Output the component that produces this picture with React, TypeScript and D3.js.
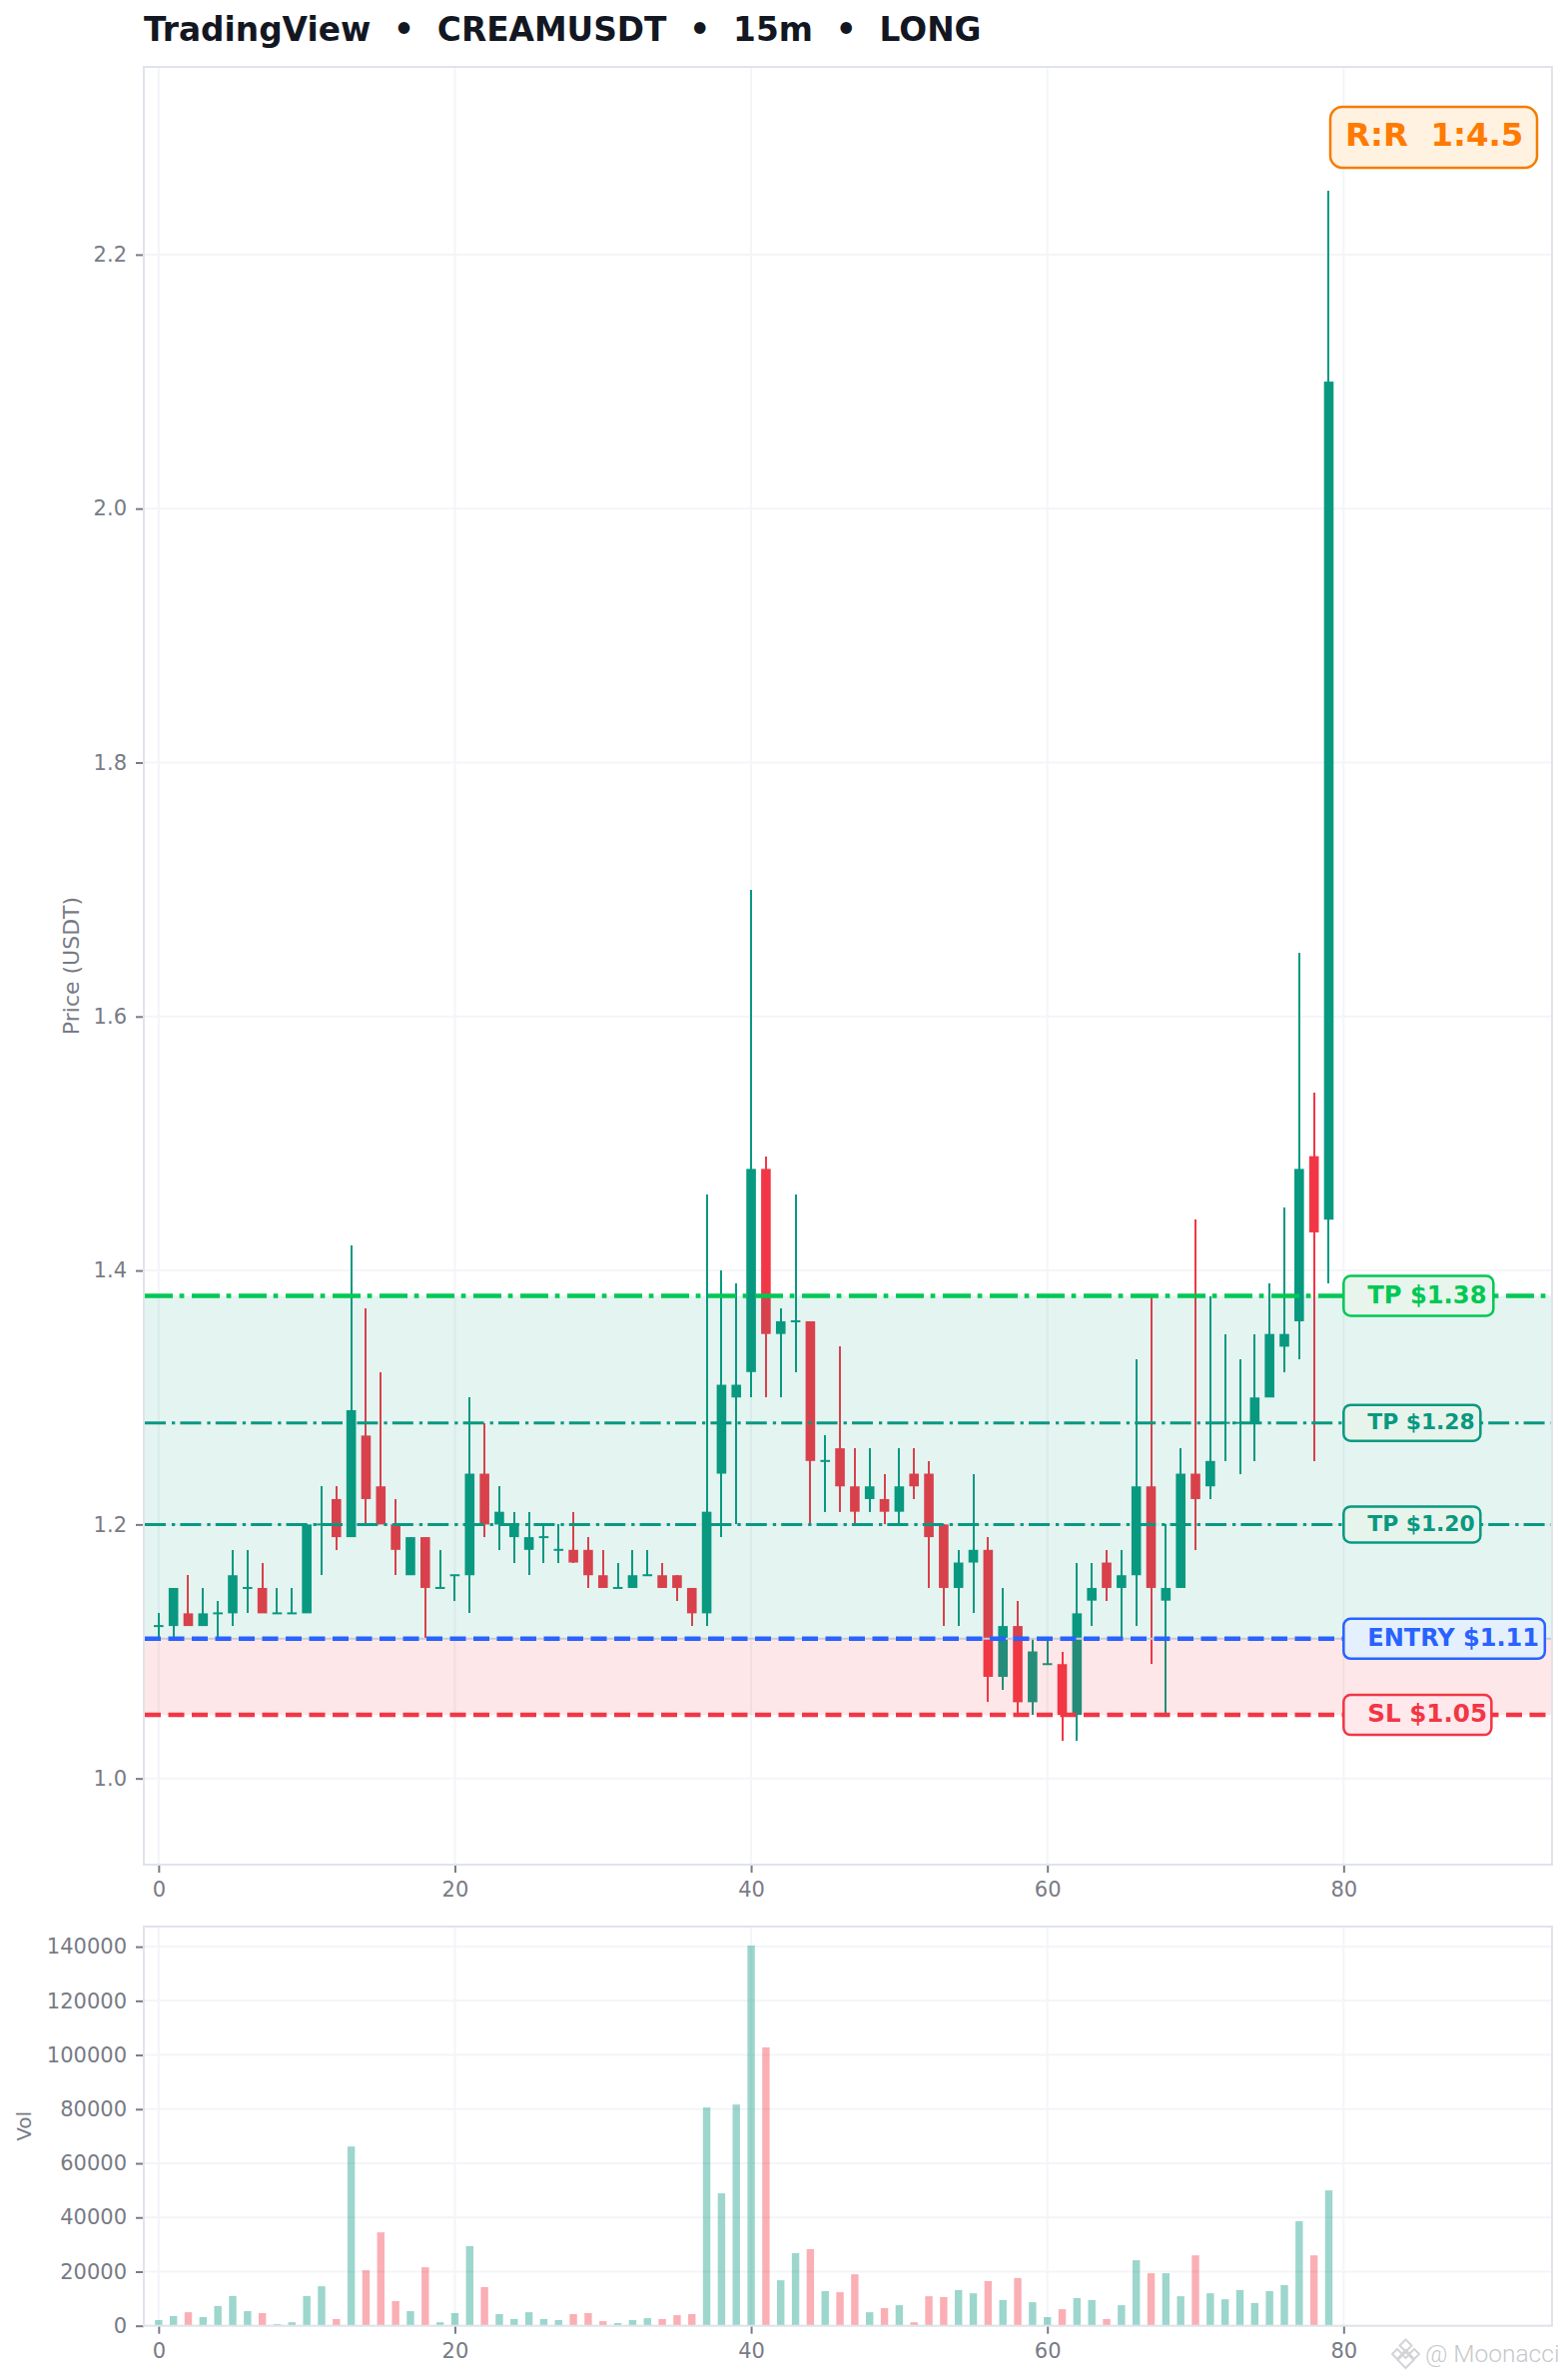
import { useEffect, useRef } from 'react';
import * as d3 from 'd3';

const opens = [
  1.12, 1.12, 1.13, 1.12, 1.13, 1.13, 1.15, 1.15, 1.13, 1.13,
  1.13, 1.20, 1.22, 1.19, 1.27, 1.23, 1.20, 1.16, 1.19, 1.15,
  1.16, 1.16, 1.24, 1.20, 1.19, 1.18, 1.19, 1.18, 1.18, 1.18,
  1.16, 1.15, 1.15, 1.16, 1.16, 1.16, 1.15, 1.13, 1.24, 1.30,
  1.32, 1.48, 1.35, 1.36, 1.36, 1.25, 1.26, 1.23, 1.22, 1.22,
  1.21, 1.24, 1.24, 1.20, 1.15, 1.17, 1.18, 1.08, 1.12, 1.06,
  1.09, 1.09, 1.05, 1.14, 1.17, 1.15, 1.16, 1.23, 1.14, 1.15,
  1.24, 1.23, 1.28, 1.28, 1.28, 1.30, 1.34, 1.36, 1.49, 1.44,
];
const closes = [
  1.12, 1.15, 1.12, 1.13, 1.13, 1.16, 1.15, 1.13, 1.13, 1.13,
  1.20, 1.20, 1.19, 1.29, 1.22, 1.20, 1.18, 1.19, 1.15, 1.15,
  1.16, 1.24, 1.20, 1.21, 1.20, 1.19, 1.19, 1.18, 1.17, 1.16,
  1.15, 1.15, 1.16, 1.16, 1.15, 1.15, 1.13, 1.21, 1.31, 1.31,
  1.48, 1.35, 1.36, 1.36, 1.25, 1.25, 1.23, 1.21, 1.23, 1.21,
  1.23, 1.23, 1.19, 1.15, 1.17, 1.18, 1.08, 1.12, 1.06, 1.10,
  1.09, 1.05, 1.13, 1.15, 1.15, 1.16, 1.23, 1.15, 1.15, 1.24,
  1.22, 1.25, 1.28, 1.28, 1.30, 1.35, 1.35, 1.48, 1.43, 2.10,
];
const highs = [
  1.13, 1.15, 1.16, 1.15, 1.14, 1.18, 1.18, 1.17, 1.15, 1.15,
  1.20, 1.23, 1.23, 1.42, 1.37, 1.32, 1.22, 1.19, 1.19, 1.18,
  1.16, 1.30, 1.28, 1.23, 1.21, 1.21, 1.20, 1.20, 1.21, 1.19,
  1.18, 1.17, 1.18, 1.18, 1.17, 1.16, 1.15, 1.46, 1.40, 1.39,
  1.70, 1.49, 1.37, 1.46, 1.36, 1.27, 1.34, 1.26, 1.26, 1.24,
  1.26, 1.26, 1.25, 1.20, 1.18, 1.24, 1.19, 1.15, 1.14, 1.11,
  1.11, 1.10, 1.17, 1.17, 1.18, 1.18, 1.33, 1.38, 1.20, 1.26,
  1.44, 1.38, 1.35, 1.33, 1.35, 1.39, 1.45, 1.65, 1.54, 2.25,
];
const lows = [
  1.11, 1.11, 1.12, 1.12, 1.11, 1.12, 1.13, 1.13, 1.13, 1.13,
  1.13, 1.16, 1.18, 1.19, 1.20, 1.20, 1.16, 1.16, 1.11, 1.15,
  1.14, 1.13, 1.19, 1.18, 1.17, 1.16, 1.17, 1.17, 1.17, 1.15,
  1.15, 1.15, 1.15, 1.16, 1.15, 1.14, 1.12, 1.12, 1.19, 1.20,
  1.30, 1.30, 1.30, 1.32, 1.20, 1.21, 1.21, 1.20, 1.21, 1.20,
  1.20, 1.22, 1.15, 1.12, 1.12, 1.13, 1.06, 1.07, 1.05, 1.05,
  1.09, 1.03, 1.03, 1.12, 1.14, 1.11, 1.12, 1.09, 1.05, 1.15,
  1.18, 1.22, 1.25, 1.24, 1.25, 1.30, 1.32, 1.33, 1.25, 1.39,
];
const volumes = [
  2100, 3600, 5000, 3200, 7300, 11000, 5400, 4700, 600, 1300,
  11000, 14600, 2500, 66200, 20500, 34500, 9100, 5400, 21600, 1300,
  4700, 29400, 14300, 4300, 2500, 5000, 2500, 2100, 4300, 4700,
  1700, 1000, 2100, 2800, 2500, 3900, 4300, 80600, 48900, 81700,
  140400, 102800, 16800, 26800, 28300, 12800, 12400, 19000, 5000, 6500,
  7600, 1300, 10900, 10600, 13200, 12000, 16500, 9500, 17600, 8700,
  3200, 6100, 10200, 9500, 2500, 7600, 24200, 19400, 19400, 10900,
  26000, 12000, 9800, 13200, 8400, 12800, 15000, 38600, 26000, 50000,
];

const xTicks = [0, 20, 40, 60, 80];
const priceTicks = [1.0, 1.2, 1.4, 1.6, 1.8, 2.0, 2.2];
const volTicks = [0, 20000, 40000, 60000, 80000, 100000, 120000, 140000];

const entry = 1.11;
const stopLoss = 1.05;
const takeProfits = [1.2, 1.28, 1.38];

const GREEN = '#089981';
const RED = '#F23645';
const BLUE = '#2962FF';
const LIME = '#00C853';
const ORANGE = '#F57C00';
const GRID = '#F3F5F8';
const BORDER = '#E0E3EB';
const TICK = '#787B86';
const FONT = '"DejaVu Sans", sans-serif';

const W = 1569;
const H = 2383;
const left = 144;
const right = 1554;

export default function App() {
  const svgRef = useRef<SVGSVGElement>(null);

  useEffect(() => {
    if (!svgRef.current) return;
    const svg = d3.select(svgRef.current);
    svg.selectAll('*').remove();

    const x = d3.scaleLinear().domain([-1, 94.07]).range([left, right]);
    const y = d3.scaleLinear().domain([0.9321, 2.3478]).range([1867, 67]);
    const yVol = d3.scaleLinear().domain([0, 147420]).range([2328.7, 1929]);

    const idx = d3.range(opens.length);

    // title
    svg.append('text')
      .attr('x', 144)
      .attr('y', 41)
      .attr('font-size', 32.8)
      .attr('font-weight', 700)
      .attr('fill', '#131722')
      .style('white-space', 'pre')
      .text('TradingView  •  CREAMUSDT  •  15m  •  LONG');

    // grid + axes shared by both panels
    function panel(yScale: d3.ScaleLinear<number, number>, ticks: number[], fmt: (d: number) => string, label: string, labelX: number, labelSize: number) {
      const [bottom, top] = yScale.range();
      const g = svg.append('g');
      g.selectAll('.gx').data(xTicks).enter().append('line')
        .attr('x1', d => x(d)).attr('x2', d => x(d))
        .attr('y1', top).attr('y2', bottom)
        .attr('stroke', GRID).attr('stroke-width', 2);
      g.selectAll('.gy').data(ticks).enter().append('line')
        .attr('x1', left).attr('x2', right)
        .attr('y1', d => yScale(d)).attr('y2', d => yScale(d))
        .attr('stroke', GRID).attr('stroke-width', 2);

      const ax = svg.append('g')
        .attr('transform', `translate(${left},0)`)
        .call(d3.axisLeft(yScale).tickValues(ticks).tickFormat(d => fmt(+d)).tickSize(8).tickPadding(9));
      const bx = svg.append('g')
        .attr('transform', `translate(0,${bottom})`)
        .call(d3.axisBottom(x).tickValues(xTicks).tickFormat(d => String(d)).tickSize(8).tickPadding(9));
      [ax, bx].forEach(a => {
        a.select('.domain').remove();
        a.selectAll('line').attr('stroke', TICK).attr('stroke-width', 2);
        a.selectAll('text').attr('fill', TICK).attr('font-size', 21).attr('font-family', FONT);
      });

      svg.append('text')
        .attr('transform', `translate(${labelX},${(top + bottom) / 2}) rotate(-90)`)
        .attr('text-anchor', 'middle')
        .attr('font-size', labelSize)
        .attr('fill', TICK)
        .text(label);
    }

    panel(y, priceTicks, d3.format('.1f'), 'Price (USDT)', 79, 22);
    panel(yVol, volTicks, d => String(d), 'Vol', 31, 20);

    // candles
    const up = (i: number) => closes[i] >= opens[i];
    const candles = svg.append('g');
    candles.selectAll('.wick').data(idx).enter().append('line')
      .attr('x1', i => x(i)).attr('x2', i => x(i))
      .attr('y1', i => y(highs[i])).attr('y2', i => y(lows[i]))
      .attr('stroke', i => (up(i) ? GREEN : RED))
      .attr('stroke-width', 2)
      .attr('shape-rendering', 'crispEdges');
    candles.selectAll('.body').data(idx).enter().append('rect')
      .attr('x', i => x(i) - 4.8)
      .attr('width', 9.6)
      .attr('y', i => Math.min(y(opens[i]), y(closes[i])) - (opens[i] === closes[i] ? 1 : 0))
      .attr('height', i => Math.max(2, Math.abs(y(opens[i]) - y(closes[i]))))
      .attr('fill', i => (up(i) ? GREEN : RED));

    // zones sit over the candles
    svg.append('rect')
      .attr('x', left).attr('width', right - left)
      .attr('y', y(takeProfits[2])).attr('height', y(entry) - y(takeProfits[2]))
      .attr('fill', GREEN).attr('fill-opacity', 0.108);
    svg.append('rect')
      .attr('x', left).attr('width', right - left)
      .attr('y', y(entry)).attr('height', y(stopLoss) - y(entry))
      .attr('fill', RED).attr('fill-opacity', 0.12);
    svg.append('line')
      .attr('x1', left).attr('x2', right)
      .attr('y1', y(entry)).attr('y2', y(entry))
      .attr('stroke', '#C9CAD3').attr('stroke-width', 2);

    // level lines
    const levels = [
      { v: takeProfits[0], color: GREEN, w: 3, dash: '21 6 3.3 5.1' },
      { v: takeProfits[1], color: GREEN, w: 3, dash: '21 6 3.3 5.1' },
      { v: takeProfits[2], color: LIME, w: 4.5, dash: '28 6.7 4.7 7.6' },
      { v: entry, color: BLUE, w: 4.5, dash: '16 7.5' },
      { v: stopLoss, color: RED, w: 4.5, dash: '16 7.5' },
    ];
    svg.selectAll('.level').data(levels).enter().append('line')
      .attr('x1', left + 1).attr('x2', right)
      .attr('y1', d => y(d.v)).attr('y2', d => y(d.v))
      .attr('stroke', d => d.color)
      .attr('stroke-width', d => d.w)
      .attr('stroke-dasharray', d => d.dash);

    // level tags
    const tags = [
      { v: takeProfits[0], text: 'TP $1.20', color: GREEN, fill: '#E7F4EC', size: 21.8, w: 137, h: 36 },
      { v: takeProfits[1], text: 'TP $1.28', color: GREEN, fill: '#E7F4EC', size: 21.8, w: 137, h: 36 },
      { v: takeProfits[2], text: 'TP $1.38', color: LIME, fill: '#E7F5EC', size: 24.2, w: 150, h: 40 },
      { v: entry, text: 'ENTRY $1.11', color: BLUE, fill: '#E4F0FE', size: 24, w: 201.5, h: 40 },
      { v: stopLoss, text: 'SL $1.05', color: RED, fill: '#FFE9EC', size: 24.6, w: 148, h: 40 },
    ];
    const tagG = svg.selectAll('.tag').data(tags).enter().append('g');
    tagG.append('rect')
      .attr('x', x(80))
      .attr('y', d => y(d.v) - d.h / 2)
      .attr('width', d => d.w)
      .attr('height', d => d.h)
      .attr('rx', 7)
      .attr('fill', d => d.fill)
      .attr('stroke', d => d.color)
      .attr('stroke-width', 2.5);
    tagG.append('text')
      .attr('x', x(80) + 24)
      .attr('y', d => y(d.v) + d.size * 0.3)
      .attr('font-size', d => d.size)
      .attr('font-weight', 700)
      .attr('fill', d => d.color)
      .text(d => d.text);

    // risk reward badge
    svg.append('rect')
      .attr('x', 1332).attr('y', 107)
      .attr('width', 207).attr('height', 61)
      .attr('rx', 12)
      .attr('fill', '#FFF2E0')
      .attr('stroke', ORANGE)
      .attr('stroke-width', 2.5);
    svg.append('text')
      .attr('x', 1347).attr('y', 146)
      .attr('font-size', 32.4)
      .attr('font-weight', 700)
      .attr('fill', '#FF7A00')
      .style('white-space', 'pre')
      .text('R:R  1:4.5');

    // volume bars
    svg.append('g').selectAll('rect').data(idx).enter().append('rect')
      .attr('x', i => x(i) - 3.7)
      .attr('width', 7.4)
      .attr('y', i => yVol(volumes[i]))
      .attr('height', i => yVol(0) - yVol(volumes[i]))
      .attr('fill', i => (up(i) ? GREEN : RED))
      .attr('fill-opacity', 0.4);

    // panel frames
    [[67, 1867], [1929, 2328.7]].forEach(([t, b]) => {
      svg.append('rect')
        .attr('x', left).attr('y', t)
        .attr('width', right - left).attr('height', b - t)
        .attr('fill', 'none')
        .attr('stroke', BORDER)
        .attr('stroke-width', 2);
    });

    // watermark: diamond logo plus handle
    const logo = svg.append('g')
      .attr('transform', 'translate(1407.5,2357)')
      .attr('fill', 'none')
      .attr('stroke', '#D4D4D8')
      .attr('stroke-width', 2);
    [[0, -8.5, 6], [-8.5, 0, 5], [8.5, 0, 5], [0, 0, 4], [0, 6, 8]].forEach(([cx, cy, r]) => {
      logo.append('path').attr('d', `M${cx},${cy - r}L${cx + r},${cy}L${cx},${cy + r}L${cx - r},${cy}Z`);
    });
    svg.append('text')
      .attr('x', 1427).attr('y', 2365)
      .attr('font-size', 24.5)
      .attr('font-family', 'Roboto, sans-serif')
      .attr('font-weight', 300)
      .attr('fill', '#C8C8CC')
      .text('@ Moonacci');
  }, []);

  return (
    <svg
      ref={svgRef}
      width={W}
      height={H}
      viewBox={`0 0 ${W} ${H}`}
      fontFamily={FONT}
      style={{ position: 'absolute', left: 0, top: 0, background: '#FFFFFF' }}
    />
  );
}
